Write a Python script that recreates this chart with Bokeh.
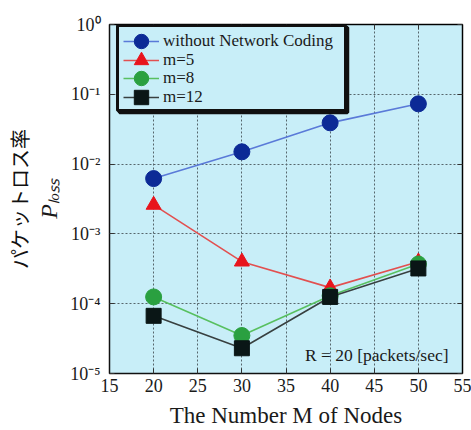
import math
from bokeh.plotting import figure
from bokeh.models import (Label, FixedTicker, LinearAxis, LogAxis, Legend,
                          LegendItem, BoxAnnotation, CustomJSTickFormatter)
from bokeh.embed import file_html
from bokeh.resources import INLINE

# ---- data ----
nodes = [20, 30, 40, 50]
p_without = [6.2e-3, 1.5e-2, 3.9e-2, 7.3e-2]
p_m5 = [2.6e-3, 4.0e-4, 1.7e-4, 4.0e-4]
p_m8 = [1.25e-4, 3.5e-5, 1.3e-4, 3.7e-4]
p_m12 = [6.7e-5, 2.3e-5, 1.25e-4, 3.2e-4]

series_labels = ["without Network Coding", "m=5", "m=8", "m=12"]
x_ticks = [15, 20, 25, 30, 35, 40, 45, 50, 55]
y_ticks = [1e-5, 1e-4, 1e-3, 1e-2, 1e-1, 1e0]
x_title = "The Number M of Nodes"
y_title_jp = "パケットロス率"
y_title_sym = "P\u2097\u2092\u209b\u209b"
note = "R = 20 [packets/sec]"

SERIF = "Liberation Serif"
TXT = "#1a1a1a"
BG = "#c8eef8"

p = figure(width=471, height=430, x_range=(15, 55), y_range=(1e-5, 1),
           y_axis_type="log", output_backend="svg", toolbar_location=None,
           min_border_left=109, min_border_right=9, min_border_top=24,
           min_border_bottom=55, background_fill_color=BG,
           border_fill_color="white", outline_line_color="#111111",
           outline_line_width=1.5)

blank = CustomJSTickFormatter(code="return ''")
pow10 = CustomJSTickFormatter(code="""
const sup = {'-': '\\u207b', '0': '\\u2070', '1': '\\u00b9', '2': '\\u00b2',
             '3': '\\u00b3', '4': '\\u2074', '5': '\\u2075', '6': '\\u2076',
             '7': '\\u2077', '8': '\\u2078', '9': '\\u2079'};
const e = Math.round(Math.log10(tick));
return '10' + String(e).split('').map(c => sup[c]).join('');
""")

# axes
p.xaxis.ticker = FixedTicker(ticks=x_ticks)
p.yaxis.ticker = FixedTicker(ticks=y_ticks)
for ax in p.xaxis + p.yaxis:
    ax.major_tick_in = 5
    ax.major_tick_out = 0
    ax.minor_tick_line_color = None
    ax.axis_line_color = "#111111"
    ax.major_tick_line_color = "#333333"
    ax.major_label_text_font = SERIF
    ax.major_label_text_font_size = "18px"
    ax.major_label_text_color = TXT
    ax.axis_label_text_color = TXT
    ax.axis_label_text_font_style = "normal"

p.xaxis.major_label_standoff = 5
p.xaxis.axis_label = x_title
p.xaxis.axis_label_text_font = SERIF
p.xaxis.axis_label_text_font_size = "23px"
p.xaxis.axis_label_standoff = 8
p.xaxis.axis_label_text_line_height = 1.0
p.xaxis.major_label_text_line_height = 1.0

p.yaxis.formatter = pow10
p.yaxis.major_label_standoff = 9
p.yaxis.axis_label = y_title_sym
p.yaxis.axis_label_text_font = SERIF
p.yaxis.axis_label_text_font_style = "italic"
p.yaxis.axis_label_text_font_size = "24px"
p.yaxis.axis_label_standoff = 5

jp_axis = LogAxis(ticker=FixedTicker(ticks=[]), axis_line_color=None,
                  major_tick_line_color=None, minor_tick_line_color=None,
                  major_label_standoff=0, axis_label=y_title_jp,
                  axis_label_text_font="Noto Sans CJK JP",
                  axis_label_text_font_size="20px",
                  axis_label_text_font_style="normal",
                  axis_label_text_color="#111111", axis_label_standoff=0)
p.add_layout(jp_axis, "left")

top_ax = LinearAxis(ticker=FixedTicker(ticks=x_ticks), formatter=blank,
                    major_tick_in=5, major_tick_out=0, minor_tick_line_color=None,
                    major_label_standoff=0, major_tick_line_color="#333333")
right_ax = LogAxis(ticker=FixedTicker(ticks=y_ticks), formatter=blank,
                   major_tick_in=5, major_tick_out=0, minor_tick_line_color=None,
                   major_label_standoff=0, major_tick_line_color="#333333")
p.add_layout(top_ax, "above")
p.add_layout(right_ax, "right")

# grid
p.grid.grid_line_color = "#56666c"
p.grid.grid_line_dash = "2 2"
p.grid.grid_line_width = 1

# series
styles = [
    (p_without, "#5a7ad8", "#0c2a96", "circle", 16),
    (p_m5, "#e25050", "#e8141c", "triangle", 15),
    (p_m8, "#58c060", "#2aa040", "circle", 16),
    (p_m12, "#384040", "#0a1616", "square", 15),
]
items = []
for (vals, lc, mc, marker, size), lab in zip(styles, series_labels):
    lr = p.line(nodes, vals, line_color=lc, line_width=1.6)
    sr = p.scatter(nodes, vals, marker=marker, size=size, fill_color=mc,
                   line_color=mc, line_width=1)
    items.append(LegendItem(label=lab, renderers=[lr, sr]))

# legend box with a small drop shadow (frame-relative screen units)
shadow = BoxAnnotation(left=10, right=238, bottom=261, top=346,
                       left_units="screen", right_units="screen",
                       bottom_units="screen", top_units="screen",
                       fill_color="#101010", fill_alpha=1.0, line_alpha=1.0,
                       line_color="#101010", line_width=3.5)
p.add_layout(shadow)
box = BoxAnnotation(left=8, right=236, bottom=263, top=348,
                    left_units="screen", right_units="screen",
                    bottom_units="screen", top_units="screen",
                    fill_color=BG, fill_alpha=1.0, line_alpha=1.0,
                    line_color="#101010", line_width=3.0)
p.add_layout(box)

# one legend per row so that rows can be closer than the marker box
row_bottoms = [314, 295, 277, 258]
for item, yb in zip(items, row_bottoms):
    lg = Legend(items=[item], location=(14, yb), margin=0, padding=0,
                spacing=0, glyph_width=36, glyph_height=36, label_height=18,
                label_standoff=4, border_line_color=None,
                background_fill_alpha=0.0, label_text_font=SERIF,
                label_text_font_style="normal",
                label_text_font_size="17px", label_text_color=TXT)
    p.add_layout(lg, "center")

# annotation
p.add_layout(Label(x=339, y=19, x_units="screen", y_units="screen",
                   text=note, text_align="right",
                   text_baseline="alphabetic", text_font=SERIF,
                   text_font_size="17.5px", text_color=TXT))

open("out.html", "w", encoding="utf-8").write(file_html(p, INLINE))
